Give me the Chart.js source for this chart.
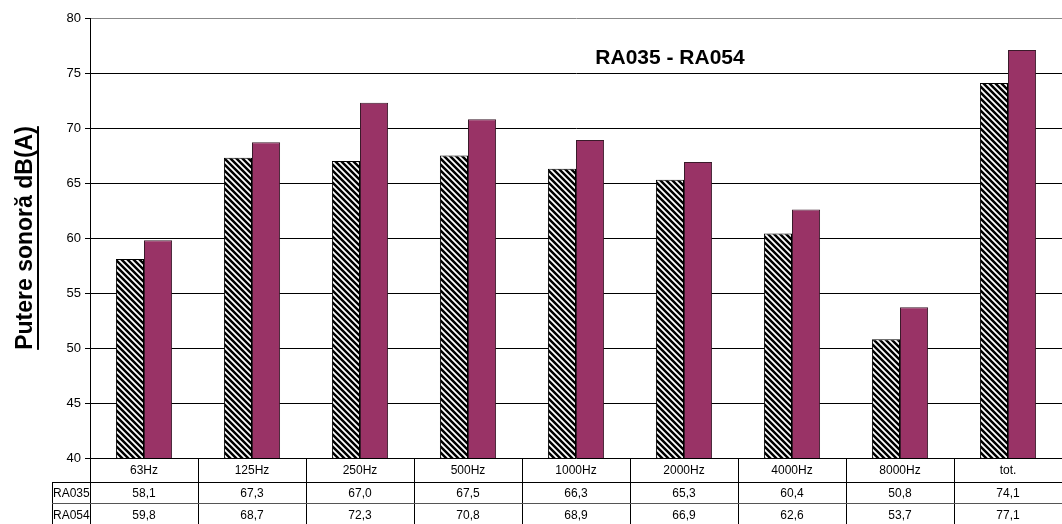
<!DOCTYPE html>
<html>
<head>
<meta charset="utf-8">
<script src="https://cdn.jsdelivr.net/npm/chart.js@4/dist/chart.umd.min.js"></script>
<style>
  html, body { margin: 0; padding: 0; background: #fff; }
  canvas { display: block; }
</style>
</head>
<body>
<canvas id="chart" width="1062" height="524"></canvas>
<script>
const categories = ['63Hz', '125Hz', '250Hz', '500Hz', '1000Hz', '2000Hz', '4000Hz', '8000Hz', 'tot.'];
const seriesNames = ['RA035', 'RA054'];
const ra035 = [58.1, 67.3, 67.0, 67.5, 66.3, 65.3, 60.4, 50.8, 74.1];
const ra054 = [59.8, 68.7, 72.3, 70.8, 68.9, 66.9, 62.6, 53.7, 77.1];
const yMin = 40, yMax = 80, yStep = 5;
const chartTitle = 'RA035 - RA054';
const yTitle = 'Putere sonoră dB(A)';

const FONT = '"Liberation Sans", Arial, sans-serif';

// diagonal hatch for the first series
function makeHatch() {
    const c = document.createElement('canvas');
    c.width = 6; c.height = 6;
    const g = c.getContext('2d');
    g.fillStyle = '#fff';
    g.fillRect(0, 0, 6, 6);
    g.strokeStyle = '#000';
    g.lineWidth = 2.5;
    g.beginPath();
    g.moveTo(-3, -3); g.lineTo(9, 9);
    g.moveTo(-3, 3); g.lineTo(3, 9);
    g.moveTo(3, -3); g.lineTo(9, 3);
    g.stroke();
    return g.createPattern(c, 'repeat');
}

const fmt = v => v.toFixed(1).replace('.', ',');

const extras = {
    id: 'extras',
    afterDraw(chart) {
        const ctx = chart.ctx;
        const area = chart.chartArea;
        const x = chart.scales.x;
        const n = categories.length;
        const cw = (area.right - area.left) / n;
        const top = area.bottom;
        const r1 = top + 24, r2 = top + 45, r3 = chart.height;
        const labelLeft = 52;

        ctx.save();
        // title inside plot
        ctx.fillStyle = '#000';
        ctx.font = 'bold 21px ' + FONT;
        ctx.textAlign = 'center';
        ctx.textBaseline = 'middle';
        ctx.fillText(chartTitle, 670, 58);

        // y axis title, rotated and underlined
        ctx.save();
        ctx.translate(26, (area.top + area.bottom) / 2);
        ctx.rotate(-Math.PI / 2);
        ctx.font = 'bold 23px ' + FONT;
        ctx.fillText(yTitle, 0, 0);
        const w = ctx.measureText(yTitle).width;
        ctx.fillRect(-w / 2, 11, w, 2);
        ctx.restore();

        // data table
        ctx.strokeStyle = '#000';
        ctx.lineWidth = 1;
        ctx.beginPath();
        for (let i = 1; i <= n; i++) {
            const bx = Math.round(area.left + i * cw) + 0.5;
            ctx.moveTo(bx, top); ctx.lineTo(bx, r3);
        }
        ctx.moveTo(area.left + 0.5, top); ctx.lineTo(area.left + 0.5, r3);
        ctx.moveTo(labelLeft + 0.5, r1); ctx.lineTo(labelLeft + 0.5, r3);
        ctx.moveTo(labelLeft, r1 + 0.5); ctx.lineTo(area.right, r1 + 0.5);
        ctx.stroke();
        ctx.strokeStyle = '#555';
        ctx.beginPath();
        ctx.moveTo(labelLeft, r2 + 0.5); ctx.lineTo(area.right, r2 + 0.5);
        ctx.stroke();

        ctx.font = '12px ' + FONT;
        ctx.fillStyle = '#000';
        ctx.textAlign = 'center';
        const rows = [ra035, ra054];
        categories.forEach((c, i) => {
            const cx = x.getPixelForValue(i);
            ctx.fillText(c, cx, (top + r1) / 2 + 1);
            ctx.fillText(fmt(rows[0][i]), cx, (r1 + r2) / 2 + 1);
            ctx.fillText(fmt(rows[1][i]), cx, (r2 + r3) / 2 + 2);
        });
        ctx.textAlign = 'left';
        ctx.fillText(seriesNames[0], labelLeft + 1, (r1 + r2) / 2 + 1);
        ctx.fillText(seriesNames[1], labelLeft + 1, (r2 + r3) / 2 + 2);
        ctx.restore();
    }
};

new Chart(document.getElementById('chart'), {
    type: 'bar',
    data: {
        labels: categories,
        datasets: [{
            label: seriesNames[0],
            data: ra035,
            backgroundColor: makeHatch(),
            borderColor: '#000',
            borderWidth: 1,
            borderSkipped: 'bottom'
        }, {
            label: seriesNames[1],
            data: ra054,
            backgroundColor: '#993366',
            borderColor: '#3a1a2a',
            borderWidth: 1,
            borderSkipped: 'bottom'
        }]
    },
    options: {
        responsive: false,
        animation: false,
        layout: { padding: { left: 0, top: 18, right: 0, bottom: 66 } },
        datasets: { bar: { categoryPercentage: 0.52, barPercentage: 1 } },
        plugins: {
            legend: { display: false },
            tooltip: { enabled: false },
            title: { display: false }
        },
        scales: {
            x: { display: false, offset: true },
            y: {
                min: yMin,
                max: yMax,
                afterFit(scale) { scale.width = 90; },
                ticks: {
                    stepSize: yStep,
                    color: '#000',
                    font: { family: FONT, size: 13 },
                    padding: 4
                },
                grid: {
                    color: c => c.tick && c.tick.value === yMax ? '#888' : '#000',
                    tickColor: '#000',
                    tickLength: 5,
                    lineWidth: 1
                },
                border: { color: '#000', width: 1 }
            }
        }
    },
    plugins: [extras]
});
</script>
</body>
</html>
